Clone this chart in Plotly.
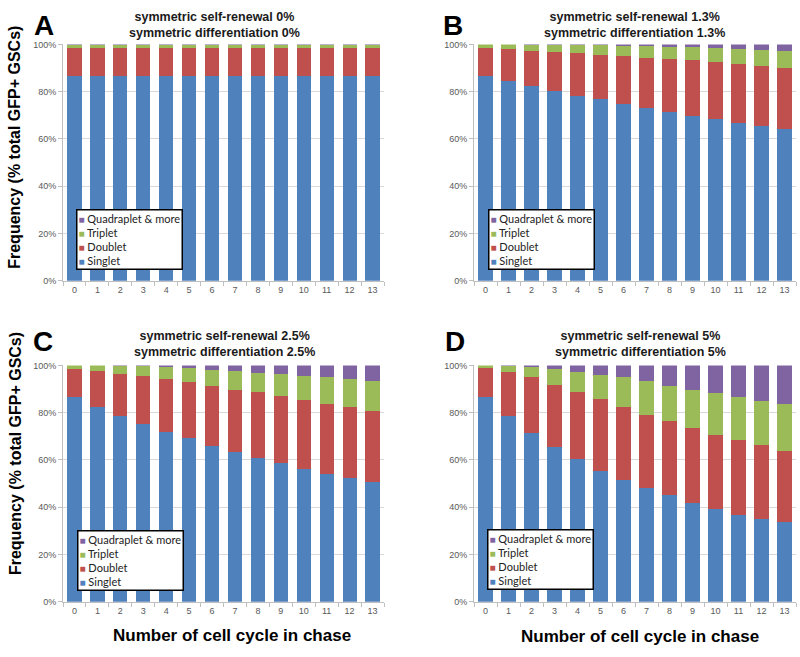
import plotly.graph_objects as go

cycles = [str(i) for i in range(14)]
series_names = ["Singlet", "Doublet", "Triplet", "Quadraplet & more"]
series_colors = ["#4F81BD", "#C0504D", "#9BBB59", "#8064A2"]

# Panel A: symmetric self-renewal 0%
A_singlet = [86.5, 86.5, 86.5, 86.5, 86.5, 86.5, 86.5, 86.5, 86.5, 86.5, 86.5, 86.5, 86.5, 86.5]
A_doublet = [12.1, 12.1, 12.1, 12.1, 12.1, 12.1, 12.1, 12.1, 12.1, 12.1, 12.1, 12.1, 12.1, 12.1]
A_triplet = [1.2, 1.2, 1.2, 1.2, 1.2, 1.2, 1.2, 1.2, 1.2, 1.2, 1.2, 1.2, 1.2, 1.2]
A_quad = [0.2, 0.2, 0.2, 0.2, 0.2, 0.2, 0.2, 0.2, 0.2, 0.2, 0.2, 0.2, 0.2, 0.2]

# Panel B: 1.3%
B_singlet = [86.5, 84.4, 82.4, 80.1, 78.3, 76.8, 74.9, 73.2, 71.4, 69.9, 68.3, 66.9, 65.3, 64.0]
B_doublet = [12.0, 13.5, 15.0, 16.8, 18.1, 18.9, 20.1, 21.2, 22.6, 23.3, 24.1, 24.6, 25.4, 26.0]
B_triplet = [1.5, 2.1, 2.5, 3.0, 3.4, 4.0, 4.5, 4.9, 5.1, 5.7, 6.2, 6.7, 7.1, 7.3]
B_quad = [0.0, 0.0, 0.1, 0.1, 0.2, 0.3, 0.5, 0.7, 0.9, 1.1, 1.4, 1.8, 2.2, 2.7]

# Panel C: 2.5%
C_singlet = [86.5, 82.3, 78.8, 75.3, 71.9, 69.1, 65.9, 63.2, 61.0, 58.6, 56.3, 54.1, 52.3, 50.5]
C_doublet = [11.8, 15.4, 17.6, 20.3, 22.4, 23.9, 25.4, 26.6, 27.6, 28.3, 29.1, 29.6, 29.9, 30.1]
C_triplet = [1.7, 2.3, 3.5, 4.1, 5.1, 5.9, 6.8, 7.7, 8.2, 9.4, 10.3, 11.6, 12.1, 12.9]
C_quad = [0.0, 0.0, 0.1, 0.3, 0.6, 1.1, 1.9, 2.5, 3.2, 3.7, 4.3, 4.7, 5.7, 6.5]

# Panel D: 5%
D_singlet = [86.8, 78.6, 71.3, 65.3, 60.2, 55.4, 51.5, 48.0, 45.0, 42.0, 39.3, 36.9, 35.1, 33.6]
D_doublet = [11.9, 18.5, 23.6, 26.6, 28.6, 30.3, 30.9, 31.0, 31.3, 31.5, 31.4, 31.7, 31.2, 30.4]
D_triplet = [1.3, 2.7, 4.3, 6.6, 8.6, 10.4, 12.5, 14.2, 15.2, 16.2, 17.5, 18.2, 18.8, 19.7]
D_quad = [0.0, 0.2, 0.8, 1.5, 2.6, 3.9, 5.1, 6.8, 8.5, 10.3, 11.8, 13.2, 14.9, 16.3]

panel_letters = ["A", "B", "C", "D"]
panel_titles = [
    "symmetric self-renewal 0%<br>symmetric differentiation 0%",
    "symmetric self-renewal 1.3%<br>symmetric differentiation 1.3%",
    "symmetric self-renewal 2.5%<br>symmetric differentiation 2.5%",
    "symmetric self-renewal 5%<br>symmetric differentiation 5%",
]
y_ticks = [0, 20, 40, 60, 80, 100]
y_title = "Frequency (% total GFP+ GSCs)"
x_title = "Number of cell cycle in chase"

panels = [
    [A_singlet, A_doublet, A_triplet, A_quad],
    [B_singlet, B_doublet, B_triplet, B_quad],
    [C_singlet, C_doublet, C_triplet, C_quad],
    [D_singlet, D_doublet, D_triplet, D_quad],
]

W, H = 800, 657
def px_x(v):
    return v / W
def px_y(v):
    return (H - v) / H

x_domains = [[px_x(63), px_x(384)], [px_x(474), px_x(796)], [px_x(63), px_x(384)], [px_x(474), px_x(796)]]
y_domains = [[px_y(280), px_y(40)], [px_y(280), px_y(40)], [px_y(606), px_y(366)], [px_y(606), px_y(366)]]

fig = go.Figure()
for p, data in enumerate(panels):
    sfx = "" if p == 0 else str(p + 1)
    for name, color, vals in zip(series_names, series_colors, data):
        fig.add_trace(go.Bar(
            x=cycles, y=vals, name=name, marker=dict(color=color, line=dict(width=0)),
            xaxis="x" + sfx, yaxis="y" + sfx, showlegend=False,
        ))

grid = "#D9D9D9"
axis_line = "#BFBFBF"
tick_font = dict(family="Liberation Sans, Arial", size=9, color="#595959")
layout = dict(
    width=W, height=H, margin=dict(l=0, r=0, t=0, b=0),
    paper_bgcolor="white", plot_bgcolor="white",
    barmode="stack", bargap=0.38, showlegend=False,
    font=dict(family="Liberation Sans, Arial", color="#000"),
)
for p in range(4):
    sfx = "" if p == 0 else str(p + 1)
    layout["xaxis" + sfx] = dict(
        domain=x_domains[p], anchor="y" + sfx, type="category",
        showline=True, linecolor=axis_line, linewidth=1,
        ticks="outside", tickson="boundaries", ticklen=4, tickcolor=axis_line,
        tickfont=tick_font, showgrid=False, fixedrange=True,
    )
    layout["yaxis" + sfx] = dict(
        domain=y_domains[p], anchor="x" + sfx, range=[0, 100],
        tickvals=y_ticks, ticktext=[f"{t}%" for t in y_ticks],
        showline=True, linecolor=axis_line, linewidth=1,
        ticks="outside", ticklen=4, tickcolor=axis_line,
        showgrid=True, gridcolor=grid, gridwidth=1,
        tickfont=tick_font, zeroline=False, fixedrange=True,
    )

annotations = []
letter_pos = [(44, 21), (453, 21), (43, 342), (455, 342)]
title_pos = [(214, 20), (634, 20), (224, 344), (640, 344)]
for p in range(4):
    lx, ly = letter_pos[p]
    annotations.append(dict(
        text=f"<b>{panel_letters[p]}</b>", x=px_x(lx), y=px_y(ly), xref="paper", yref="paper",
        showarrow=False, xanchor="center", yanchor="middle",
        font=dict(family="Liberation Sans, Arial", size=28, color="#000"),
    ))
    tx, ty = title_pos[p]
    annotations.append(dict(
        text=f"<b>{panel_titles[p]}</b>", x=px_x(tx), y=px_y(ty), xref="paper", yref="paper",
        showarrow=False, xanchor="center", yanchor="middle", align="center",
        font=dict(family="Liberation Sans, Arial", size=12.5, color="#1a1a1a"),
    ))

# y-axis titles (left column)
for (yx, yy) in [(15, 145), (15, 456)]:
    annotations.append(dict(
        text=f"<b>{y_title}</b>", x=px_x(yx), y=px_y(yy), xref="paper", yref="paper",
        showarrow=False, textangle=-90, xanchor="center", yanchor="middle",
        font=dict(family="Liberation Sans, Arial", size=16, color="#000"),
    ))
# x-axis titles (bottom row)
for (xx, xy) in [(232, 640), (640, 641)]:
    annotations.append(dict(
        text=f"<b>{x_title}</b>", x=px_x(xx), y=px_y(xy), xref="paper", yref="paper",
        showarrow=False, xanchor="center", yanchor="middle",
        font=dict(family="Liberation Sans, Arial", size=17, color="#000"),
    ))

# legend boxes
legend_lines = []
for name, color in list(zip(series_names, series_colors))[::-1]:
    legend_lines.append(f"<span style='color:{color};font-size:10px'>■</span> {name}")
legend_text = "<br>".join(legend_lines)
legend_pos = [(76, 207), (488, 207), (77, 533), (487, 532)]
for (gx, gy) in legend_pos:
    annotations.append(dict(
        text=legend_text, x=px_x(gx), y=px_y(gy), xref="paper", yref="paper",
        showarrow=False, xanchor="left", yanchor="top", align="left",
        bgcolor="white", bordercolor="#000", borderwidth=1.5, borderpad=1,
        font=dict(family="Lato, Liberation Sans", size=11, color="#222"),
    ))

layout["annotations"] = annotations
fig.update_layout(**layout)
fig.write_html(
    "out.html",
    config={"displayModeBar": False},
    post_script="document.body.style.margin='0';document.body.style.overflow='hidden';",
)
